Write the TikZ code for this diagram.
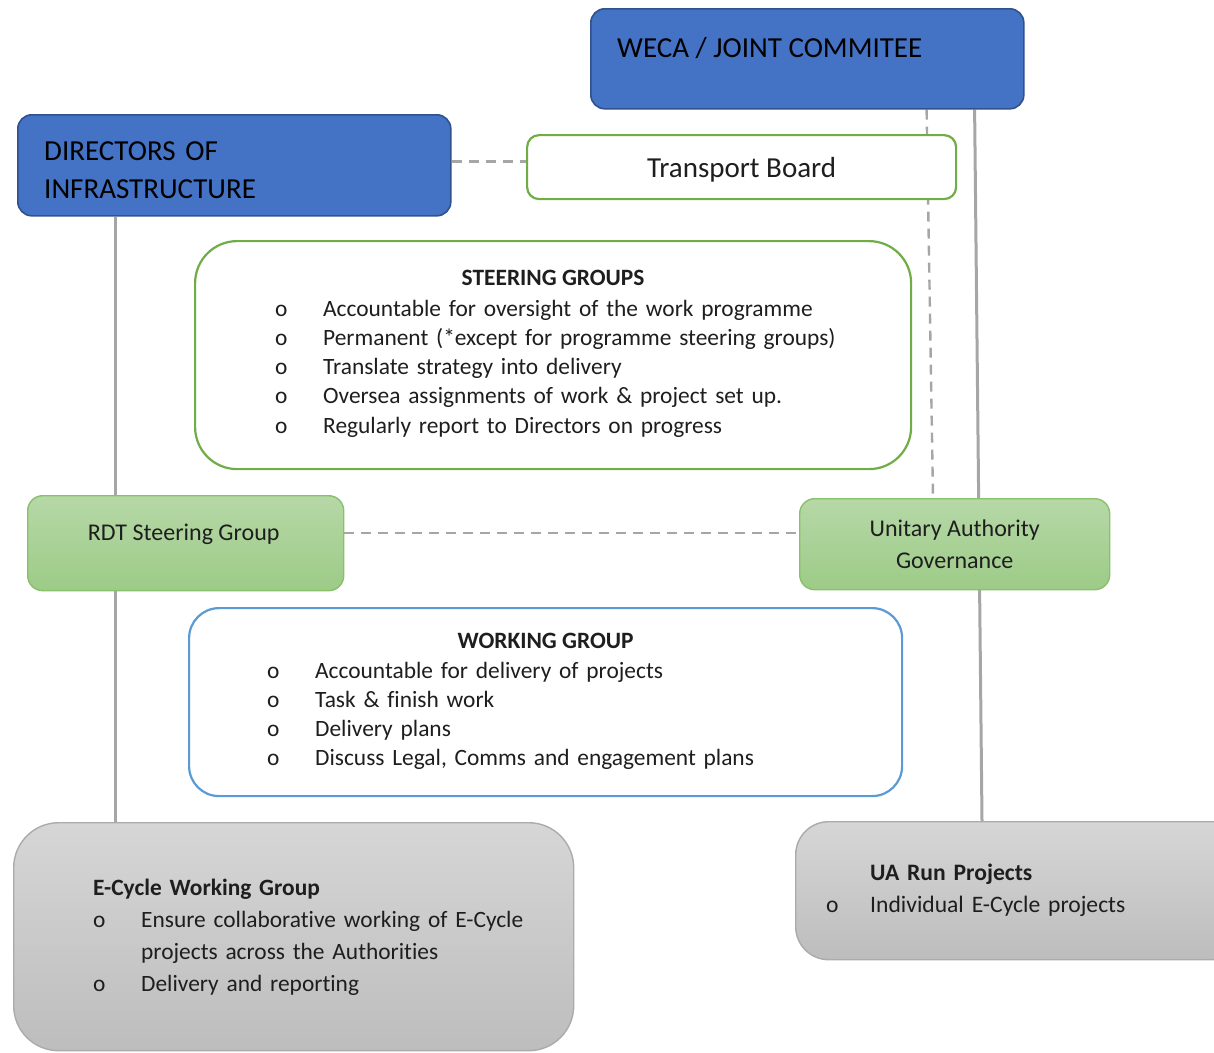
\documentclass[tikz,border=0pt]{standalone}
\usepackage{fontspec}
\setmainfont{Carlito}[Ligatures=NoCommon]
\usetikzlibrary{positioning, backgrounds}

\definecolor{wecablue}{HTML}{4472C4}
\definecolor{blueedge}{HTML}{2F528F}
\definecolor{boardgreen}{HTML}{70AD47}
\definecolor{greentop}{HTML}{B6D8A7}
\definecolor{greenbot}{HTML}{9DCB87}
\definecolor{greenedge}{HTML}{88C06B}
\definecolor{workblue}{HTML}{5B9BD5}
\definecolor{greytop}{HTML}{D6D6D6}
\definecolor{greybot}{HTML}{BDBDBD}
\definecolor{greyedge}{HTML}{ABABAB}
\definecolor{linkgrey}{HTML}{A6A6A6}
\definecolor{txtgrey}{HTML}{1E1E1E}

\newcommand{\headfont}{\fontsize{29}{38}\selectfont}
\newcommand{\bodyfont}{\fontsize{23.4}{29.3}\selectfont}
\newcommand{\smallfont}{\fontsize{24}{32}\selectfont}
\newcommand{\bitem}[1]{\makebox[48pt][l]{o}#1}

\tikzset{
  topbox/.style={rectangle, rounded corners=14pt, draw=blueedge, fill=wecablue,
                 line width=1.6pt, anchor=north west, inner sep=0pt},
  boardbox/.style={rectangle, rounded corners=12pt, draw=boardgreen, fill=white,
                   line width=2.2pt, anchor=north west, inner sep=0pt,
                   font=\headfont, text=txtgrey, text depth=0pt},
  steerbox/.style={rectangle, rounded corners=42pt, draw=boardgreen, fill=white,
                   line width=2.2pt, anchor=north west, inner sep=0pt},
  workbox/.style={rectangle, rounded corners=30pt, draw=workblue, fill=white,
                  line width=2.2pt, anchor=north west, inner sep=0pt},
  groupbox/.style={rectangle, rounded corners=15pt, draw=greenedge, top color=greentop,
                   bottom color=greenbot, line width=1.4pt, anchor=north west,
                   inner sep=0pt, font=\smallfont, text=txtgrey, align=center},
  projbox/.style={rectangle, draw=greyedge, top color=greytop, bottom color=greybot,
                  line width=1.4pt, anchor=north west, inner sep=0pt},
  boxtext/.style={anchor=base west, inner sep=0pt, align=left, text=txtgrey},
  link/.style={draw=linkgrey, line width=3pt},
  dlink/.style={draw=linkgrey, line width=2.4pt, dash pattern=on 10pt off 7pt},
}

\begin{document}
\begin{tikzpicture}[x=1pt, y=-1pt]

  \useasboundingbox (0,0) rectangle (1214,1052);

  % =====================================================
  % TOP LEVEL
  % =====================================================

  \node[topbox, minimum width=433pt, minimum height=100pt]
    (weca) at (590,8) {};

  \node[boxtext, font=\headfont, text=black]
    (wecatxt) at ([xshift=27pt, yshift=-49pt]weca.north west)
    {WECA / JOINT COMMITEE};

  \node[topbox, minimum width=433pt, minimum height=101pt]
    (doi) at (17,114) {};

  \node[boxtext, font=\headfont, text=black, text width=380pt]
    (doitxt) at ([xshift=27pt, yshift=-46pt]doi.north west)
    {DIRECTORS OF\\INFRASTRUCTURE};

  \node[boardbox, minimum width=429pt, minimum height=64pt]
    (board) at (526,134) {Transport Board};


  % =====================================================
  % STEERING GROUPS
  % =====================================================

  \node[steerbox, minimum width=716pt, minimum height=228pt]
    (sg) at (194,240) {};

  \node[boxtext, anchor=base, font=\bodyfont\bfseries]
    (sgtitle) at ([yshift=-45pt]sg.north) {STEERING GROUPS};

  \node[boxtext, font=\bodyfont, text width=600pt]
    (sglist) at ([xshift=81pt, yshift=-76pt]sg.north west)
    {\bitem{Accountable for oversight of the work programme}\\
     \bitem{Permanent (*except for programme steering groups)}\\
     \bitem{Translate strategy into delivery}\\
     \bitem{Oversea assignments of work \& project set up.}\\
     \bitem{Regularly report to Directors on progress}};

  \node[groupbox, minimum width=316pt, minimum height=95pt]
    (rdt) at (27,495) {};

  \node[boxtext, anchor=base, font=\smallfont]
    (rdttxt) at ([yshift=-45pt, xshift=-2pt]rdt.north) {RDT Steering Group};

  \node[groupbox, minimum width=310pt, minimum height=91pt]
    (uagov) at (799,498) {Unitary Authority\\Governance};


  % =====================================================
  % WORKING GROUP
  % =====================================================

  \node[workbox, minimum width=713pt, minimum height=188pt]
    (wg) at (188,607) {};

  \node[boxtext, anchor=base, font=\bodyfont\bfseries]
    (wgtitle) at ([yshift=-41pt]wg.north) {WORKING GROUP};

  \node[boxtext, font=\bodyfont, text width=600pt]
    (wglist) at ([xshift=79pt, yshift=-71pt]wg.north west)
    {\bitem{Accountable for delivery of projects}\\
     \bitem{Task \& finish work}\\
     \bitem{Delivery plans}\\
     \bitem{Discuss Legal, Comms and engagement plans}};


  % =====================================================
  % PROJECTS
  % =====================================================

  \node[projbox, rounded corners=45pt, minimum width=560pt, minimum height=228pt]
    (ecycle) at (13,822) {};

  \node[boxtext, font=\fontsize{23.4}{32}\selectfont, text width=470pt]
    (ecycletxt) at ([xshift=80pt, yshift=-73pt]ecycle.north west)
    {\textbf{E-Cycle Working Group}\\
     \bitem{Ensure collaborative working of E-Cycle}\\
     \hspace*{48pt}projects across the Authorities\\
     \bitem{Delivery and reporting}};

  \node[projbox, rounded corners=33pt, minimum width=450pt, minimum height=138pt]
    (uarun) at (795,821) {};

  \node[boxtext, font=\fontsize{23.6}{32}\selectfont, text width=400pt]
    (uaruntxt) at ([xshift=31pt, yshift=-59pt]uarun.north west)
    {\hspace*{44pt}\textbf{UA Run Projects}\\
     \makebox[44pt][l]{o}Individual E-Cycle projects};


  % =====================================================
  % CONNECTORS
  % =====================================================

  \begin{scope}[on background layer]

    \draw[link]
      ([xshift=98pt]doi.south west) -- ([xshift=102pt]ecycle.north west);

    \draw[link]
      ([xshift=-50pt]weca.south east) -- ([xshift=187pt]uarun.north west);

    \draw[dlink]
      ([xshift=-98pt]weca.south east) -- ([xshift=134pt]uagov.north west);

    \draw[dlink]
      ([yshift=4pt]doi.east) -- ([yshift=4pt]doi.east -| board.west);

    \draw[dlink]
      ([yshift=10pt]rdt.east) -- ([yshift=10pt]rdt.east -| uagov.west);

  \end{scope}

\end{tikzpicture}
\end{document}
